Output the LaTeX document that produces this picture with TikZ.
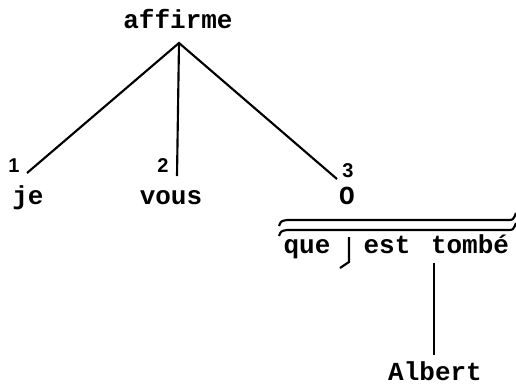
\documentclass[tikz,border=0pt]{standalone}
\usepackage{fontspec}
\newfontfamily\typefont{Liberation Mono}
\newfontfamily\numfont{Liberation Sans}
\begin{document}
\begin{tikzpicture}[x=0.75pt,y=0.75pt,yscale=-1,xscale=1,
    word/.style={inner sep=0pt,anchor=base,font=\typefont\bfseries\fontsize{19.5}{20}\selectfont},
    num/.style={inner sep=0pt,anchor=base,font=\numfont\bfseries\fontsize{15}{16}\selectfont},
    stem/.style={line width=1.6pt}]
        \useasboundingbox (0,0) rectangle (516,387);

        % Words
        \node[word] (affirme) at (178,28) {affirme};
        \node[word] (je) at (28,204) {je};
        \node[word] (vous) at (171,204) {vous};
        \node[word] (subst) at (347,204) {O};
        \node[word] (que) at (307,253) {que};
        \node[word] (est) at (387,253) {est};
        \node[word] (tombe) at (470,253) {tombé};
        \node[word] (albert) at (435,380) {Albert};

        % Numbers
        \node[num] (n1) at (14,172) {1};
        \node[num] (n2) at (163,172) {2};
        \node[num] (n3) at (348,177) {3};

        % Stemma
        \coordinate (apex) at (179,43);
        \coordinate (t1) at (27,173);
        \coordinate (t2) at (177,176);
        \coordinate (t3) at (337,179);
        \draw[stem] (t1) -- (apex) -- (t3);
        \draw[stem] (apex) -- (t2);

        % Double bar over the clause
        \draw[stem] (279,226) .. controls (281,221) .. (287,220) -- (508,220) .. controls (513,220) .. (516,213);
        \draw[stem] (279,236) .. controls (281,231) .. (287,230) -- (508,230) .. controls (513,230) .. (516,223);

        % Translative hook
        \coordinate (hooktop) at (349,237);
        \coordinate (hookbot) at (349,262);
        \coordinate (hookend) at (340,268);
        \draw[stem] (hooktop) -- (hookbot) -- (hookend);

        % tombe -- Albert
        \coordinate (tb) at (434,263);
        \coordinate (ab) at (434,355);
        \draw[stem] (tb) -- (ab);

\end{tikzpicture}
\end{document}
